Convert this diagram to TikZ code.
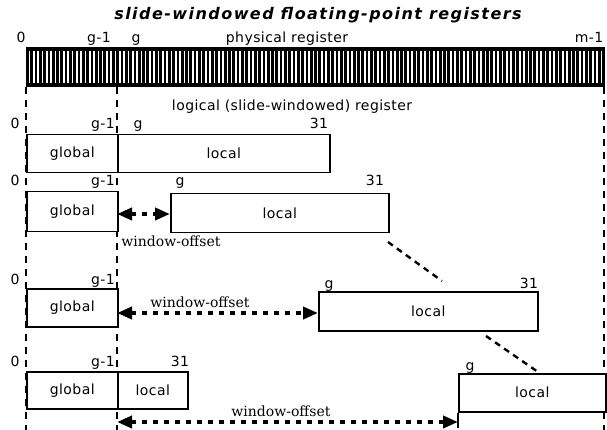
\documentclass[tikz,border=0pt]{standalone}
\usepackage{fontspec}
\setmainfont{DejaVu Sans}
\newfontfamily\ttlfont[LetterSpace=9]{DejaVu Sans}
\newfontfamily\lblfont[LetterSpace=3]{DejaVu Sans}
\newfontfamily\serfont{DejaVu Serif}
\usetikzlibrary{arrows.meta,calc}
\begin{document}
\begin{tikzpicture}[x=1pt,y=-1pt,
  box/.style={draw, line width=1.5pt, inner sep=0pt, anchor=north west, font=\lblfont\fontsize{14}{16}\selectfont},
  lbl/.style={inner sep=0pt, anchor=base, font=\lblfont\fontsize{14}{16}\selectfont},
  guide/.style={line width=1.4pt, dash pattern=on 7pt off 6pt},
  diag/.style={line width=2.4pt, dash pattern=on 6pt off 5pt},
  warrow/.style={line width=4.5pt, dash pattern=on 5pt off 6pt,
    {Triangle[length=15pt,width=12pt]}-{Triangle[length=15pt,width=12pt]}},
  woff/.style={inner sep=0pt, font=\serfont\fontsize{14}{16}\selectfont}]
\useasboundingbox (0,0) rectangle (607,430);

% title
\node[inner sep=0pt, font=\ttlfont\bfseries\itshape\fontsize{16}{18}\selectfont] (title) at (318,15) {slide-windowed floating-point registers};

% physical register bar
\node[fill=black, inner sep=0pt, anchor=north west, minimum width=579pt, minimum height=40pt] (bar) at (26,47) {};
\foreach \i in {0,...,134} { \draw[white, line width=1.6pt] ({29.5+4.3*\i},51) -- ++(0,32); }

% top labels
\node[lbl] (t0) at (21,43) {0};
\node[lbl] (tg1) at (99,43) {g-1};
\node[lbl] (tg) at (136,43) {g};
\node[lbl] (tpr) at (287,43) {physical register};
\node[lbl] (tm1) at (589,43) {m-1};

% guide lines
\coordinate (gla) at (26,87);   \coordinate (glb) at (26,430);
\coordinate (gma) at (117,87);  \coordinate (gmb) at (117,430);
\coordinate (gra) at (604,87);  \coordinate (grb) at (604,430);
\draw[guide] (gla) -- (glb);
\draw[guide] (gma) -- (gmb);
\draw[guide] (gra) -- (grb);

\node[lbl] (logi) at (292,111) {logical (slide-windowed) register};

% row 1
\node[box, fill=white, minimum width=91pt, minimum height=38pt] (g1) at (26,134) {global};
\node[box, fill=white, minimum width=212pt, minimum height=38pt] (l1) at (117,134) {local};
\node[lbl] (r1a) at (15,129) {0};
\node[lbl] (r1b) at (103,129) {g-1};
\node[lbl] (r1c) at (138,129) {g};
\node[lbl] (r1d) at (319,129) {31};

% row 2
\node[box, fill=white, minimum width=91pt, minimum height=40pt] (g2) at (26,191) {global};
\node[box, fill=white, minimum width=218pt, minimum height=39pt] (l2) at (170,193) {local};
\node[lbl] (r2a) at (15,186) {0};
\node[lbl] (r2b) at (103,186) {g-1};
\node[lbl] (r2c) at (180,186) {g};
\node[lbl] (r2d) at (375,186) {31};
\coordinate (a2s) at (117,214);
\draw[warrow] (a2s) -- (a2s -| l2.west);
\node[woff] (w2) at (171,241) {window-offset};

% row 3
\node[box, fill=white, minimum width=91pt, minimum height=38pt] (g3) at (26,288) {global};
\node[box, fill=white, minimum width=219pt, minimum height=39pt] (l3) at (318,291) {local};
\node[lbl] (r3a) at (15,284) {0};
\node[lbl] (r3b) at (103,284) {g-1};
\node[lbl] (r3c) at (329,288) {g};
\node[lbl] (r3d) at (529,288) {31};
\coordinate (a3s) at (117,313);
\draw[warrow] (a3s) -- (a3s -| l3.west);
\node[woff] (w3) at (200,302) {window-offset};

% row 4
\node[box, fill=white, minimum width=91pt, minimum height=37pt] (g4) at (26,371) {global};
\node[box, fill=white, minimum width=70pt, minimum height=37pt] (l4) at (117,371) {local};
\node[box, fill=white, minimum width=147pt, minimum height=38pt] (r4) at (458,373) {local};
\node[lbl] (r4a) at (15,366) {0};
\node[lbl] (r4b) at (103,366) {g-1};
\node[lbl] (r4c) at (180,366) {31};
\node[lbl] (r4d) at (470,370) {g};
\coordinate (rtick) at (458,428);
\draw[line width=1.5pt] (r4.south west) -- (rtick);
\coordinate (a4s) at (117,422);
\coordinate (a4e) at (458,422);
\draw[warrow] (a4s) -- (a4e);
\node[woff] (w4) at (281,411) {window-offset};

% diagonal dashed links
\coordinate (d1a) at (388,242); \coordinate (d1b) at (442,281);
\coordinate (d2a) at (486,336); \coordinate (d2b) at (538,372);
\draw[diag] (d1a) -- (d1b);
\draw[diag] (d2a) -- (d2b);
\end{tikzpicture}
\end{document}
